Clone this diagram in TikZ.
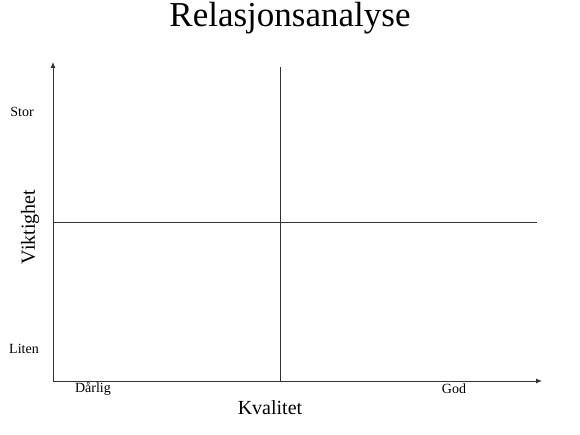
\documentclass[tikz,border=0pt]{standalone}
\usepackage{fontspec}
\setmainfont{Liberation Serif}
\usetikzlibrary{arrows.meta}
\begin{document}
\begin{tikzpicture}[x=1pt,y=-1pt,
  axis/.style={draw=black!80,line width=0.9pt,-{Latex[length=6pt,width=5pt]}},
  grid/.style={draw=black!80,line width=0.9pt},
  small/.style={font=\fontsize{14}{16}\selectfont,inner sep=0pt},
  big/.style={font=\fontsize{20}{23}\selectfont,inner sep=0pt}]
\useasboundingbox (0,0) rectangle (580,435);
\coordinate (o) at (53,381);
\coordinate (ytop) at (53,62);
\coordinate (xend) at (542,381);
\coordinate (mt) at (280,67);
\coordinate (mb) at (280,381);
\coordinate (hl) at (53,222);
\coordinate (hr) at (537,222);
\draw[grid] (mt) -- (mb);
\draw[grid] (hl) -- (hr);
\draw[axis] (o) -- (ytop);
\draw[axis] (o) -- (xend);
\node[font=\fontsize{35}{40}\selectfont,inner sep=0pt] (title) at (290,18) {Relasjonsanalyse};
\node[small] (stor) at (22,112) {Stor};
\node[small] (liten) at (24,349) {Liten};
\node[small] (darlig) at (93,389) {Dårlig};
\node[small] (god) at (454,389) {God};
\node[big] (kval) at (270,408) {Kvalitet};
\node[big,rotate=90] (vikt) at (30,227) {Viktighet};
\end{tikzpicture}
\end{document}
